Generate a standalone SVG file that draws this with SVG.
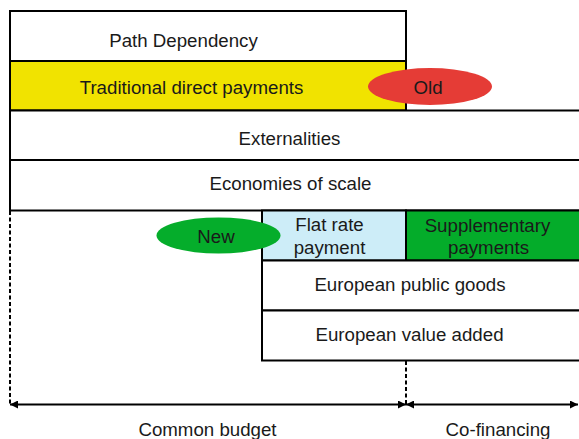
<svg xmlns="http://www.w3.org/2000/svg" width="579" height="439" viewBox="0 0 579 439">
  <defs>
    <marker id="ah" viewBox="0 0 10 10" refX="10" refY="5" markerWidth="9" markerHeight="8" markerUnits="userSpaceOnUse" orient="auto-start-reverse">
      <path d="M0,0 L10,5 L0,10 z" fill="#000"/>
    </marker>
  </defs>
  <style>
    .box { stroke: #000; stroke-width: 2; }
    .t { font-family: "Liberation Sans", Arial, Helvetica, sans-serif; font-size: 18.7px; fill: #1a1a1a; text-anchor: middle; }
    .dash { stroke: #000; stroke-width: 2; stroke-dasharray: 4 2.5; fill: none; }
    .arr { stroke: #000; stroke-width: 2; fill: none; marker-start: url(#ah); marker-end: url(#ah); }
  </style>
  <rect width="579" height="439" fill="#fff"/>

  <g id="path-dependency">
    <rect class="box" x="10" y="11" width="396" height="50" fill="#fff"/>
    <text class="t" x="183.5" y="46.5">Path Dependency</text>
  </g>
  <g id="traditional-direct-payments">
    <rect class="box" x="10" y="61" width="396" height="49.5" fill="#f1e300"/>
    <text class="t" x="191.5" y="93.5">Traditional direct payments</text>
  </g>
  <g id="externalities">
    <rect class="box" x="10" y="110.5" width="580" height="49.5" fill="#fff"/>
    <text class="t" x="289.5" y="145">Externalities</text>
  </g>
  <g id="economies-of-scale">
    <rect class="box" x="10" y="160" width="580" height="50.5" fill="#fff"/>
    <text class="t" x="290.5" y="190">Economies of scale</text>
  </g>
  <g id="flat-rate-payment">
    <rect class="box" x="262" y="210.5" width="144" height="50" fill="#cdedf8"/>
    <text class="t" x="329.5" y="231">Flat rate</text>
    <text class="t" x="329.5" y="254">payment</text>
  </g>
  <g id="supplementary-payments">
    <rect class="box" x="406" y="210.5" width="184" height="50" fill="#04ac2a"/>
    <text class="t" x="487.5" y="231.5">Supplementary</text>
    <text class="t" x="488.5" y="254">payments</text>
  </g>
  <g id="european-public-goods">
    <rect class="box" x="262" y="260.5" width="328" height="50" fill="#fff"/>
    <text class="t" x="410" y="291">European public goods</text>
  </g>
  <g id="european-value-added">
    <rect class="box" x="262" y="310.5" width="328" height="50" fill="#fff"/>
    <text class="t" x="409.5" y="341">European value added</text>
  </g>
  <g id="old">
    <ellipse cx="430" cy="86.5" rx="62" ry="18.5" fill="#e53c36"/>
    <text class="t" x="428" y="93.5">Old</text>
  </g>
  <g id="new">
    <ellipse cx="218.5" cy="235.5" rx="62" ry="18" fill="#05ad2b"/>
    <text class="t" x="216" y="242.5">New</text>
  </g>

  <g id="connectors">
    <line class="dash" x1="10" y1="211" x2="10" y2="404"/>
    <line class="dash" x1="406" y1="361" x2="406" y2="404"/>
    <line class="arr" x1="10" y1="404.5" x2="406" y2="404.5"/>
    <line class="arr" x1="406" y1="404.5" x2="578" y2="404.5"/>
  </g>

  <g id="common-budget">
    <text class="t" x="207.5" y="436">Common budget</text>
  </g>
  <g id="co-financing">
    <text class="t" x="498" y="436">Co-financing</text>
  </g>
</svg>
